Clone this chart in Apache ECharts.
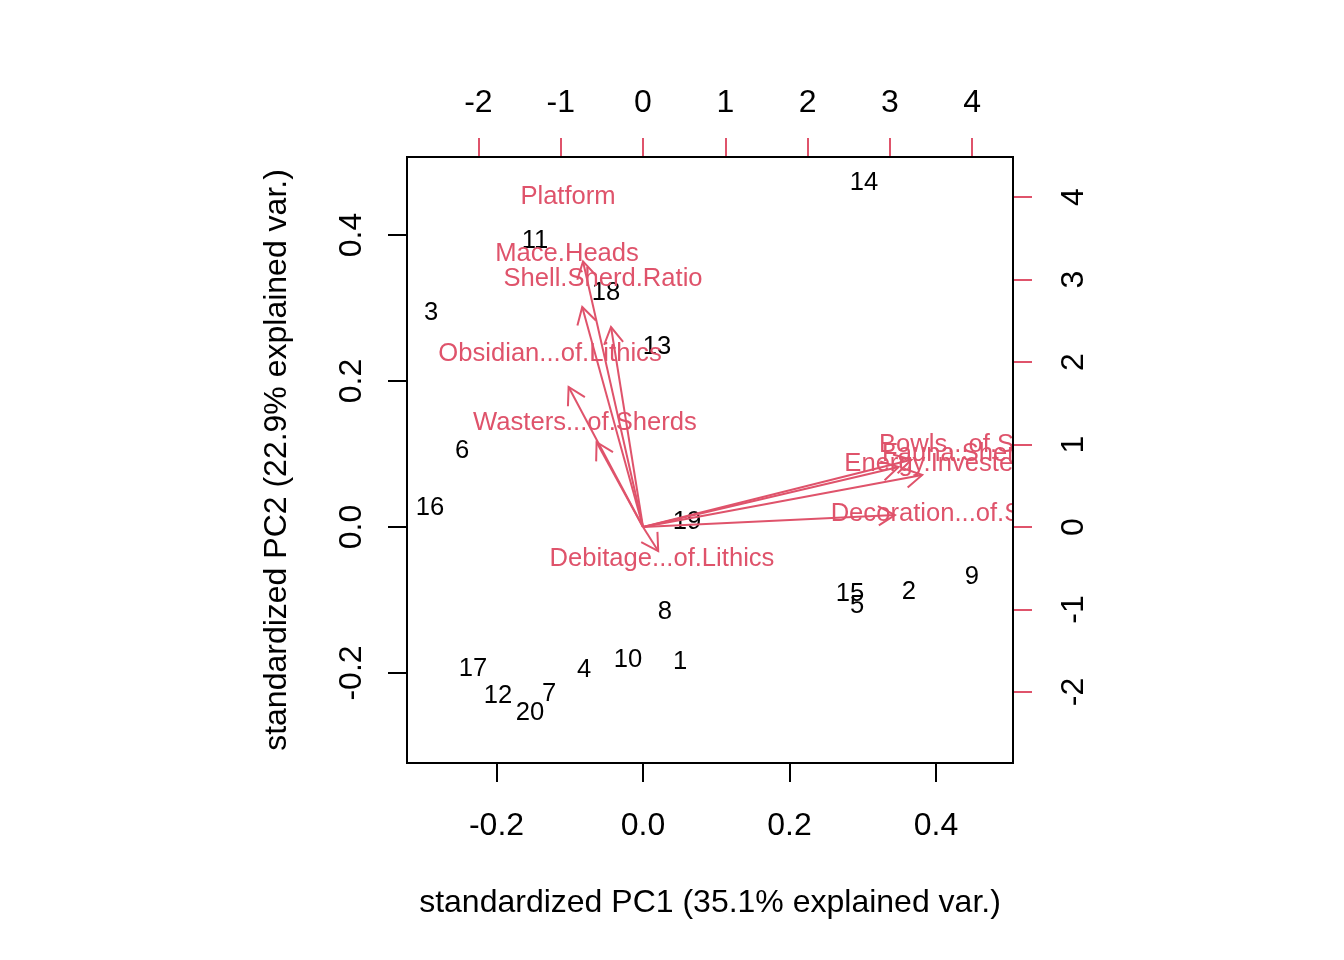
<!DOCTYPE html>
<html><head><meta charset="utf-8">
<script src="https://cdn.jsdelivr.net/npm/echarts@6/dist/echarts.min.js"></script>
<style>html,body{margin:0;padding:0;background:#fff}#c{width:1344px;height:960px}</style>
</head><body><div id="c"></div>
<script>
// Observations (standardized PC scores)
const obsNames = ['1','2','3','4','5','6','7','8','9','10','11','12','13','14','15','16','17','18','19','20'];
const pc1 = [0.0505, 0.3631, -0.2894, -0.0805, 0.2922, -0.2471, -0.1283, 0.0300, 0.4491, -0.0205,
             -0.1474, -0.1980, 0.0191, 0.3017, 0.2826, -0.2908, -0.2321, -0.0505, 0.0601, -0.1543];
const pc2 = [-0.1822, -0.0863, 0.2959, -0.1932, -0.1055, 0.1068, -0.2260, -0.1137, -0.0658, -0.1795,
             0.3945, -0.2288, 0.2493, 0.4740, -0.0890, 0.0288, -0.1918, 0.3233, 0.0096, -0.2520];

// Variables (loadings, secondary axes)
const varNames = ['Platform','Mace.Heads','Shell.Sherd.Ratio','Obsidian...of.Lithics','Wasters...of.Sherds',
                  'Debitage...of.Lithics','Decoration...of.Sherds','Bowls...of.Sherds','Fauna.Sherds','Energy.Invested.in.Burials'];
const load1 = [-0.911, -0.923, -0.486, -1.130, -0.705, 0.231, 3.827, 4.077, 3.882, 4.241];
const load2 = [4.024, 3.333, 3.030, 2.121, 1.285, -0.364, 0.182, 1.018, 0.909, 0.788];

// Tick values
const xTicks = [-0.2, 0.0, 0.2, 0.4];
const yTicks = [-0.2, 0.0, 0.2, 0.4];
const x2Ticks = [-2, -1, 0, 1, 2, 3, 4];
const y2Ticks = [-2, -1, 0, 1, 2, 3, 4];

const RED = '#DF536B';
const FONT = '"Liberation Sans", Arial, Helvetica, sans-serif';

const chart = echarts.init(document.getElementById('c'), null, {renderer: 'canvas'});

function axisCommon(ticks, tickColor, fmt, margin, rotate) {
  return {
    type: 'value',
    axisLine: {show: false, onZero: false},
    splitLine: {show: false},
    axisTick: {show: true, inside: false, length: 19, customValues: ticks, lineStyle: {color: tickColor, width: 2}},
    axisLabel: {show: true, customValues: ticks, formatter: fmt, fontSize: 32, color: '#000', fontFamily: FONT, margin: margin, rotate: rotate || 0}
  };
}

const fmt1 = v => Number(v).toFixed(1);
const fmt0 = v => String(Math.round(v));

const option = {
  animation: false,
  backgroundColor: '#fff',
  grid: {left: 407, top: 157, width: 606, height: 606, show: true, borderColor: '#000', borderWidth: 2, backgroundColor: 'transparent', z: 3},
  xAxis: [
    Object.assign(axisCommon(xTicks, '#000', fmt1, 47), {
      position: 'bottom', min: -0.3222, max: 0.5051,
      name: 'standardized PC1 (35.1% explained var.)', nameLocation: 'middle', nameGap: 124,
      nameTextStyle: {fontSize: 32, color: '#000', fontFamily: FONT}
    }),
    Object.assign(axisCommon(x2Ticks, RED, fmt0, 38), {
      position: 'top', min: -2.8676, max: 4.4957
    })
  ],
  yAxis: [
    Object.assign(axisCommon(yTicks, '#000', fmt1, 39, 90), {
      position: 'left', min: -0.3233, max: 0.5068,
      name: 'standardized PC2 (22.9% explained var.)', nameLocation: 'middle', nameGap: 114,
      nameTextStyle: {fontSize: 32, color: '#000', fontFamily: FONT}
    }),
    Object.assign(axisCommon(y2Ticks, RED, fmt0, 45, 90), {
      position: 'right', min: -2.8606, max: 4.4848
    })
  ],
  series: [
    {
      type: 'custom', name: 'obs', xAxisIndex: 0, yAxisIndex: 0, clip: true, silent: true,
      data: pc1.map((x, i) => [x, pc2[i]]),
      renderItem: function (params, api) {
        const p = api.coord([api.value(0), api.value(1)]);
        return {type: 'text', x: p[0], y: p[1] + 2,
          style: {text: obsNames[params.dataIndex], fill: '#000', fontSize: 25.6, fontFamily: FONT, align: 'center', verticalAlign: 'middle'}};
      }
    },
    {
      type: 'custom', name: 'varLabels', xAxisIndex: 1, yAxisIndex: 1, clip: true, silent: true,
      data: load1.map((x, i) => [x, load2[i]]),
      renderItem: function (params, api) {
        const p = api.coord([api.value(0), api.value(1)]);
        return {type: 'text', x: p[0], y: p[1] + 2,
          style: {text: varNames[params.dataIndex], fill: RED, fontSize: 25.6, fontFamily: FONT, align: 'center', verticalAlign: 'middle'}};
      }
    },
    {
      type: 'custom', name: 'arrows', xAxisIndex: 1, yAxisIndex: 1, clip: true, silent: true,
      data: load1.map((x, i) => [x, load2[i]]),
      renderItem: function (params, api) {
        const x = api.value(0), y = api.value(1);
        const o = api.coord([0, 0]);
        const t = api.coord([0.8 * x, 0.8 * y]);
        const ang = Math.atan2(t[1] - o[1], t[0] - o[0]);
        const L = 19.2, a = Math.PI / 6;
        const b1 = [t[0] - L * Math.cos(ang - a), t[1] - L * Math.sin(ang - a)];
        const b2 = [t[0] - L * Math.cos(ang + a), t[1] - L * Math.sin(ang + a)];
        return {type: 'group', children: [
          {type: 'line', shape: {x1: o[0], y1: o[1], x2: t[0], y2: t[1]}, style: {stroke: RED, lineWidth: 2}},
          {type: 'polyline', shape: {points: [b1, t, b2]}, style: {stroke: RED, lineWidth: 2, fill: null}}
        ]};
      }
    }
  ]
};
chart.setOption(option);
</script>
</body></html>
